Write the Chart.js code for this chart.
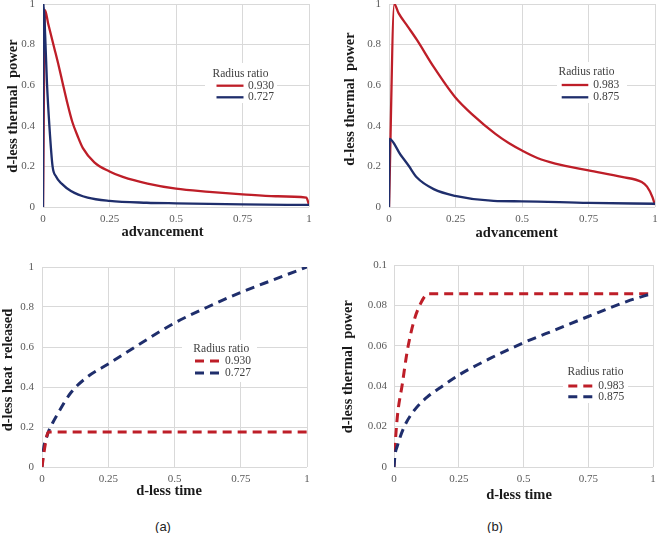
<!DOCTYPE html>
<html>
<head>
<meta charset="utf-8">
<script src="https://cdn.jsdelivr.net/npm/chart.js@4.4.1/dist/chart.umd.min.js"></script>
<style>
  html, body { margin: 0; padding: 0; background: #fff; }
  #pagina { position: relative; width: 658px; height: 533px; overflow: hidden; }
  #pagina canvas { position: absolute; }
  .etiqueta { position: absolute; transform: translate(-50%, -50%); font: 13px "Liberation Sans", Arial, sans-serif; color: #222; }
</style>
</head>
<body>
<div id="pagina">
  <canvas id="chart-a-potencia"></canvas>
  <canvas id="chart-b-potencia"></canvas>
  <canvas id="chart-a-calor"></canvas>
  <canvas id="chart-b-tiempo"></canvas>
  <div class="etiqueta" style="left:163px; top:526px">(a)</div>
  <div class="etiqueta" style="left:495px; top:526px">(b)</div>
</div>
<script>
// Cuatro paneles tipo Excel: (a) y (b), arriba potencia vs avance,
// abajo calor / potencia vs tiempo adimensional.

const ROJO = '#be1e28';
const AZUL = '#1f2e6c';
const SERIF = '"Liberation Serif", "Times New Roman", serif';

// ---------------------------------------------------------------------
// Datos
// ---------------------------------------------------------------------
const TICKS_X = [0, 0.25, 0.5, 0.75, 1];
const TICKS_Y_UNO = [0, 0.2, 0.4, 0.6, 0.8, 1];
const TICKS_Y_CHICO = [0, 0.02, 0.04, 0.06, 0.08, 0.1];

const LEYENDA_TITULO = 'Radius ratio';
const RATIOS_A = ['0.930', '0.727'];
const RATIOS_B = ['0.983', '0.875'];

const TIT_AVANCE = 'advancement';
const TIT_TIEMPO = 'd-less time';
const TIT_POTENCIA = 'd-less thermal  power';
const TIT_CALOR = 'd-less heat  released';

// (a) arriba
const avanceA930 = [0, 0.0075, 0.02, 0.043, 0.06, 0.074, 0.09, 0.11, 0.13, 0.15, 0.193, 0.25, 0.3, 0.393, 0.5, 0.625, 0.75, 0.875, 0.99, 1];
const potenciaA930 = [0, 0.97, 0.9, 0.78, 0.69, 0.61, 0.52, 0.42, 0.35, 0.29, 0.22, 0.175, 0.148, 0.115, 0.09, 0.075, 0.0625, 0.053, 0.046, 0.01];
const avanceA727 = [0, 0.002, 0.008, 0.015, 0.024, 0.036, 0.049, 0.07, 0.105, 0.168, 0.25, 0.39, 0.5, 0.75, 1];
const potenciaA727 = [0, 1, 0.85, 0.608, 0.4, 0.2, 0.15, 0.115, 0.079, 0.046, 0.03, 0.021, 0.018, 0.013, 0.01];

// (b) arriba
const avanceB983 = [0, 0.02, 0.036, 0.07, 0.105, 0.168, 0.248, 0.318, 0.4, 0.45, 0.5, 0.56, 0.625, 0.75, 0.875, 0.95, 0.97, 0.99, 1];
const potenciaB983 = [0, 1, 0.955, 0.89, 0.823, 0.69, 0.542, 0.45, 0.36, 0.315, 0.278, 0.24, 0.214, 0.18, 0.148, 0.123, 0.1, 0.05, 0.01];
const avanceB875 = [0, 0.002, 0.042, 0.074, 0.105, 0.168, 0.248, 0.393, 0.5, 0.75, 1];
const potenciaB875 = [0, 0.335, 0.26, 0.203, 0.145, 0.088, 0.055, 0.03, 0.028, 0.02, 0.016];

// (a) abajo
const tiempoA930 = [0, 0.012, 0.024, 1];
const calorA930 = [0, 0.11, 0.175, 0.175];
const tiempoA727 = [0, 0.005, 0.02, 0.04, 0.058, 0.108, 0.171, 0.25, 0.375, 0.5, 0.625, 0.75, 0.875, 1];
const calorA727 = [0, 0.08, 0.16, 0.22, 0.263, 0.37, 0.45, 0.515, 0.62, 0.72, 0.8, 0.873, 0.937, 1];

// (b) abajo
const tiempoB983 = [0, 0.004, 0.013, 0.032, 0.052, 0.078, 0.103, 0.123, 0.136, 1];
const potTiempoB983 = [0, 0.01, 0.025, 0.041, 0.058, 0.0727, 0.081, 0.0851, 0.0858, 0.0858];
const tiempoB875 = [0, 0.004, 0.013, 0.039, 0.078, 0.129, 0.181, 0.25, 0.375, 0.5, 0.625, 0.75, 0.9, 1];
const potTiempoB875 = [0, 0.006, 0.0105, 0.0198, 0.028, 0.0347, 0.0395, 0.0455, 0.054, 0.0615, 0.068, 0.0745, 0.082, 0.086];

const pts = (xs, ys) => xs.map((x, i) => ({ x, y: ys[i] }));

// ---------------------------------------------------------------------
// Plugin: leyenda con caja blanca y títulos de ejes (en coords de página)
// ---------------------------------------------------------------------
const textosPanel = {
  id: 'textosPanel',
  afterDatasetsDraw(chart, args, o) {
    const ctx = chart.ctx;
    const [ox, oy] = o.origen;
    const L = o.leyenda;
    ctx.save();
    ctx.fillStyle = '#fff';
    ctx.fillRect(L.caja[0] - ox, L.caja[1] - oy, L.caja[2], L.caja[3]);
    ctx.fillStyle = '#404040';
    ctx.font = '11.5px ' + SERIF;
    ctx.textBaseline = 'middle';
    ctx.textAlign = 'center';
    ctx.fillText(LEYENDA_TITULO, L.titulo[0] - ox, L.titulo[1] - oy);
    ctx.textAlign = 'left';
    chart.data.datasets.forEach((ds, i) => {
      const y = L.filas[i] - oy;
      ctx.strokeStyle = ds.borderColor;
      ctx.lineWidth = ds.borderWidth;
      ctx.setLineDash(ds.borderDash || []);
      ctx.beginPath();
      ctx.moveTo(L.muestra[0] - ox, y);
      ctx.lineTo(L.muestra[1] - ox, y);
      ctx.stroke();
      ctx.fillText(ds.label, L.texto - ox, y);
    });
    ctx.setLineDash([]);
    // títulos de ejes
    ctx.fillStyle = '#1a1a1a';
    ctx.font = 'bold 14.5px ' + SERIF;
    ctx.textAlign = 'center';
    ctx.fillText(o.tituloX.texto, o.tituloX.pos[0] - ox, o.tituloX.pos[1] - oy);
    ctx.translate(o.tituloY.pos[0] - ox, o.tituloY.pos[1] - oy);
    ctx.rotate(-Math.PI / 2);
    ctx.fillText(o.tituloY.texto, 0, 0);
    ctx.restore();
  },
};

// ---------------------------------------------------------------------
// crearPanel: fija el área del gráfico en píxeles de la página
// ---------------------------------------------------------------------
function crearPanel(id, p) {
  const cv = document.getElementById(id);
  const c = p.lienzo;
  cv.width = c.w;
  cv.height = c.h;
  cv.style.left = c.left + 'px';
  cv.style.top = c.top + 'px';
  const anchoEjeY = p.area.left - c.left;
  const altoEjeX = c.top + c.h - p.area.bottom;
  const fuenteTicks = { family: SERIF, size: 11 };

  return new Chart(cv, {
    type: 'scatter',
    data: {
      datasets: p.series.map((s) => ({
        label: s.label,
        data: pts(s.x, s.y),
        showLine: true,
        pointRadius: 0,
        borderColor: s.color,
        borderWidth: p.punteado ? 3 : 2.3,
        borderDash: p.punteado ? [9, 6] : [],
        cubicInterpolationMode: 'monotone',
        order: s.order,
      })),
    },
    options: {
      responsive: false,
      animation: false,
      events: [],
      layout: { padding: { top: p.area.top - c.top, right: c.left + c.w - p.area.right, left: 0, bottom: 0 } },
      plugins: {
        legend: { display: false },
        tooltip: { enabled: false },
        textosPanel: {
          origen: [c.left, c.top],
          leyenda: p.leyenda,
          tituloX: p.tituloX,
          tituloY: p.tituloY,
        },
      },
      scales: {
        x: {
          type: 'linear',
          min: 0,
          max: 1,
          afterBuildTicks: (s) => { s.ticks = TICKS_X.map((v) => ({ value: v })); },
          afterFit: (s) => { s.height = altoEjeX; s.paddingLeft = 0; s.paddingRight = 0; },
          grid: { color: '#d9d9d9', drawTicks: false },
          border: { display: false },
          ticks: { color: '#595959', font: fuenteTicks, padding: 6, maxRotation: 0, callback: (v) => String(v) },
        },
        y: {
          type: 'linear',
          min: 0,
          max: p.ticksY[p.ticksY.length - 1],
          afterBuildTicks: (s) => { s.ticks = p.ticksY.map((v) => ({ value: v })); },
          afterFit: (s) => { s.width = anchoEjeY; s.paddingTop = 0; s.paddingBottom = 0; },
          grid: { color: '#d9d9d9', drawTicks: false },
          border: { display: false },
          ticks: { color: '#595959', font: fuenteTicks, padding: p.padTicksY, callback: (v) => String(v) },
        },
      },
    },
    plugins: [textosPanel],
  });
}

crearPanel('chart-a-potencia', {
  lienzo: { left: 0, top: 0, w: 329, h: 250 },
  area: { left: 43, top: 4, right: 309, bottom: 207 },
  ticksY: TICKS_Y_UNO,
  padTicksY: 8,
  series: [
    { label: RATIOS_A[0], x: avanceA930, y: potenciaA930, color: ROJO, order: 1 },
    { label: RATIOS_A[1], x: avanceA727, y: potenciaA727, color: AZUL, order: 0 },
  ],
  leyenda: { caja: [205, 63, 72, 40], titulo: [240.5, 73.5], muestra: [216.5, 243.5], texto: 248, filas: [85.7, 97.3] },
  tituloX: { texto: TIT_AVANCE, pos: [162.5, 232] },
  tituloY: { texto: TIT_POTENCIA, pos: [13, 106] },
});

crearPanel('chart-b-potencia', {
  lienzo: { left: 329, top: 0, w: 329, h: 250 },
  area: { left: 389, top: 4, right: 655, bottom: 207 },
  ticksY: TICKS_Y_UNO,
  padTicksY: 8,
  series: [
    { label: RATIOS_B[0], x: avanceB983, y: potenciaB983, color: ROJO, order: 1 },
    { label: RATIOS_B[1], x: avanceB875, y: potenciaB875, color: AZUL, order: 0 },
  ],
  leyenda: { caja: [557, 62, 70, 41], titulo: [586.5, 72], muestra: [561.7, 588.3], texto: 593.3, filas: [85, 97.3] },
  tituloX: { texto: TIT_AVANCE, pos: [516.7, 233] },
  tituloY: { texto: TIT_POTENCIA, pos: [350, 99] },
});

crearPanel('chart-a-calor', {
  lienzo: { left: 0, top: 250, w: 329, h: 255 },
  area: { left: 42, top: 267, right: 307, bottom: 467 },
  ticksY: TICKS_Y_UNO,
  padTicksY: 8,
  punteado: true,
  series: [
    { label: RATIOS_A[0], x: tiempoA930, y: calorA930, color: ROJO, order: 0 },
    { label: RATIOS_A[1], x: tiempoA727, y: calorA727, color: AZUL, order: 1 },
  ],
  leyenda: { caja: [182, 340, 75, 42], titulo: [221.3, 349], muestra: [195, 219], texto: 225, filas: [361, 373] },
  tituloX: { texto: TIT_TIEMPO, pos: [169, 491.7] },
  tituloY: { texto: TIT_CALOR, pos: [8.5, 370] },
});

crearPanel('chart-b-tiempo', {
  lienzo: { left: 329, top: 250, w: 329, h: 255 },
  area: { left: 394, top: 265, right: 653, bottom: 467 },
  ticksY: TICKS_Y_CHICO,
  padTicksY: 7,
  punteado: true,
  series: [
    { label: RATIOS_B[0], x: tiempoB983, y: potTiempoB983, color: ROJO, order: 1 },
    { label: RATIOS_B[1], x: tiempoB875, y: potTiempoB875, color: AZUL, order: 0 },
  ],
  leyenda: { caja: [563, 362, 65, 41], titulo: [595.5, 372.3], muestra: [568.3, 593.3], texto: 598.3, filas: [386, 396.7] },
  tituloX: { texto: TIT_TIEMPO, pos: [519, 495] },
  tituloY: { texto: TIT_POTENCIA, pos: [348.3, 366.7] },
});
</script>
</body>
</html>
